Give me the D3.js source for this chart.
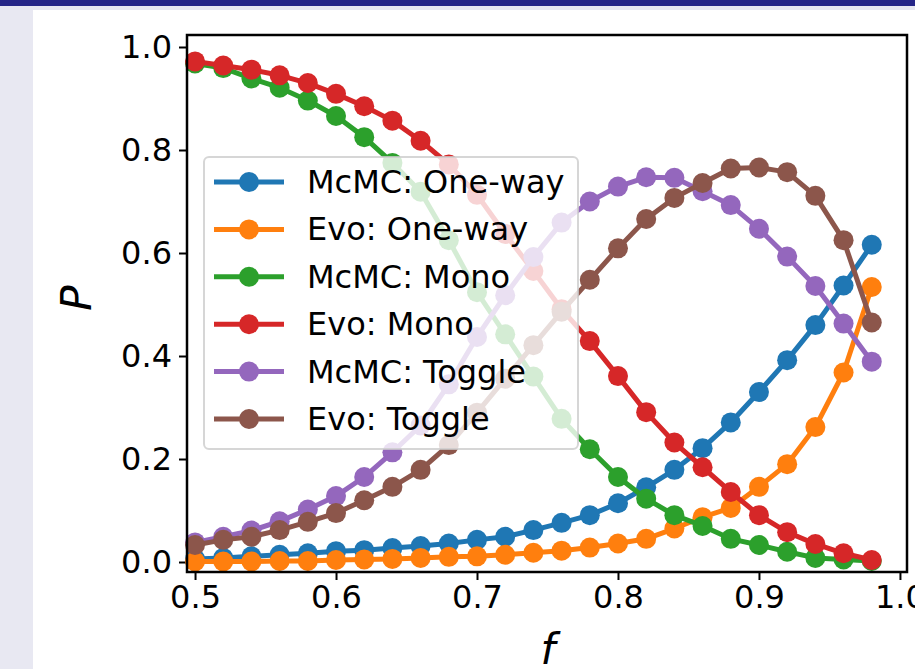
<!DOCTYPE html>
<html>
<head>
<meta charset="utf-8">
<script src="https://cdn.jsdelivr.net/npm/d3@7"></script>
<style>
  html, body { margin: 0; padding: 0; background: #e8e8f2; }
  svg { display: block; }
</style>
</head>
<body>
<svg id="chart"></svg>
<script>
// f values (x axis)
var fVals = [0.50, 0.52, 0.54, 0.56, 0.58, 0.60, 0.62, 0.64, 0.66, 0.68, 0.70, 0.72,
             0.74, 0.76, 0.78, 0.80, 0.82, 0.84, 0.86, 0.88, 0.90, 0.92, 0.94, 0.96, 0.98];

// series values
var mcmcOneWay = [0.006, 0.008, 0.011, 0.014, 0.017, 0.021, 0.023, 0.027, 0.031, 0.036, 0.043, 0.049,
                  0.062, 0.076, 0.091, 0.114, 0.145, 0.179, 0.221, 0.271, 0.330, 0.392, 0.460, 0.537, 0.616];
var evoOneWay  = [0.001, 0.001, 0.001, 0.002, 0.002, 0.004, 0.005, 0.006, 0.008, 0.010, 0.011, 0.014,
                  0.018, 0.022, 0.028, 0.036, 0.045, 0.065, 0.087, 0.105, 0.146, 0.190, 0.262, 0.368, 0.534];
var mcmcMono   = [0.968, 0.959, 0.939, 0.921, 0.896, 0.866, 0.825, 0.775, 0.719, 0.625, 0.524, 0.442,
                  0.360, 0.278, 0.219, 0.165, 0.123, 0.091, 0.070, 0.045, 0.033, 0.020, 0.008, 0.005, 0.002];
var evoMono    = [0.972, 0.964, 0.956, 0.945, 0.930, 0.909, 0.885, 0.857, 0.818, 0.772, 0.713, 0.637,
                  0.565, 0.491, 0.429, 0.361, 0.291, 0.232, 0.184, 0.136, 0.091, 0.058, 0.035, 0.017, 0.004];
var mcmcToggle = [0.038, 0.049, 0.061, 0.079, 0.102, 0.128, 0.165, 0.213, 0.265, 0.345, 0.437, 0.518,
                  0.592, 0.659, 0.700, 0.729, 0.747, 0.746, 0.720, 0.693, 0.647, 0.593, 0.536, 0.463, 0.389];
var evoToggle  = [0.033, 0.043, 0.049, 0.062, 0.078, 0.095, 0.120, 0.146, 0.179, 0.227, 0.290, 0.356,
                  0.421, 0.486, 0.548, 0.609, 0.666, 0.707, 0.736, 0.764, 0.766, 0.757, 0.711, 0.625, 0.465];

var seriesNames  = ["McMC: One-way", "Evo: One-way", "McMC: Mono", "Evo: Mono", "McMC: Toggle", "Evo: Toggle"];
var seriesValues = [mcmcOneWay, evoOneWay, mcmcMono, evoMono, mcmcToggle, evoToggle];
var colors = ["#1f77b4", "#ff7f0e", "#2ca02c", "#d62728", "#9467bd", "#8c564b"];

var xTicks = [0.5, 0.6, 0.7, 0.8, 0.9, 1.0];
var yTicks = [0.0, 0.2, 0.4, 0.6, 0.8, 1.0];

var W = 915, H = 669;
var plotL = 187, plotR = 907, plotT = 35, plotB = 572;

var svg = d3.select("#chart").attr("width", W).attr("height", H);

// slide background
svg.append("rect").attr("x", 0).attr("y", 0).attr("width", W).attr("height", H).attr("fill", "#e8e8f2");
svg.append("rect").attr("x", 0).attr("y", 0).attr("width", W).attr("height", 6).attr("fill", "#262688");
svg.append("rect").attr("x", 33).attr("y", 10).attr("width", W - 33).attr("height", H - 10).attr("fill", "#ffffff");

var x = d3.scaleLinear().domain([0.4943, 1.005]).range([plotL, plotR]);
var y = d3.scaleLinear().domain([-0.0194, 1.0233]).range([plotB, plotT]);

var font = "DejaVu Sans, sans-serif";

// axes
var xAxis = svg.append("g").attr("transform", "translate(0," + plotB + ")")
  .call(d3.axisBottom(x).tickValues(xTicks).tickFormat(d3.format(".1f")).tickSize(8).tickPadding(5));
var yAxis = svg.append("g").attr("transform", "translate(" + plotL + ",0)")
  .call(d3.axisLeft(y).tickValues(yTicks).tickFormat(d3.format(".1f")).tickSize(8).tickPadding(7));

[xAxis, yAxis].forEach(function(a) {
  a.select(".domain").remove();
  a.selectAll(".tick line").attr("stroke", "#000").attr("stroke-width", 2);
  a.selectAll(".tick text").attr("fill", "#000").style("font-family", font).style("font-size", "32px");
});

// plot lines and markers
var line = d3.line().x(function(d) { return x(d.f); }).y(function(d) { return y(d.v); });

seriesValues.forEach(function(vals, i) {
  var pts = fVals.map(function(f, j) { return {f: f, v: vals[j]}; });
  var g = svg.append("g");
  g.append("path").datum(pts)
    .attr("d", line)
    .attr("fill", "none")
    .attr("stroke", colors[i])
    .attr("stroke-width", 5)
    .attr("stroke-linejoin", "round");
  g.selectAll("circle").data(pts).enter()
    .append("circle")
    .attr("cx", function(d) { return x(d.f); })
    .attr("cy", function(d) { return y(d.v); })
    .attr("r", 10)
    .attr("fill", colors[i]);
});

// frame
svg.append("rect")
  .attr("x", plotL).attr("y", plotT)
  .attr("width", plotR - plotL).attr("height", plotB - plotT)
  .attr("fill", "none").attr("stroke", "#000").attr("stroke-width", 2.5);

// legend
var lg = svg.append("g");
lg.append("rect")
  .attr("x", 204).attr("y", 157).attr("width", 374).attr("height", 292)
  .attr("rx", 5)
  .attr("fill", "rgba(255,255,255,0.8)")
  .attr("stroke", "rgba(204,204,204,0.8)").attr("stroke-width", 2);

seriesNames.forEach(function(name, i) {
  var ly = 182 + i * 47.4;
  lg.append("line").attr("x1", 214).attr("x2", 284).attr("y1", ly).attr("y2", ly)
    .attr("stroke", colors[i]).attr("stroke-width", 5);
  lg.append("circle").attr("cx", 249).attr("cy", ly).attr("r", 10).attr("fill", colors[i]);
  lg.append("text").attr("x", 307).attr("y", ly)
    .attr("dominant-baseline", "central")
    .style("font-family", font).style("font-size", "32px")
    .text(name);
});

// axis labels
svg.append("text")
  .attr("transform", "translate(91,298) rotate(-90)")
  .attr("text-anchor", "middle")
  .style("font-family", font).style("font-size", "42px").style("font-style", "italic")
  .text("P");
svg.append("text")
  .attr("x", 548).attr("y", 664)
  .attr("text-anchor", "middle")
  .style("font-family", font).style("font-size", "42px").style("font-style", "italic")
  .text("f");
</script>
</body>
</html>
